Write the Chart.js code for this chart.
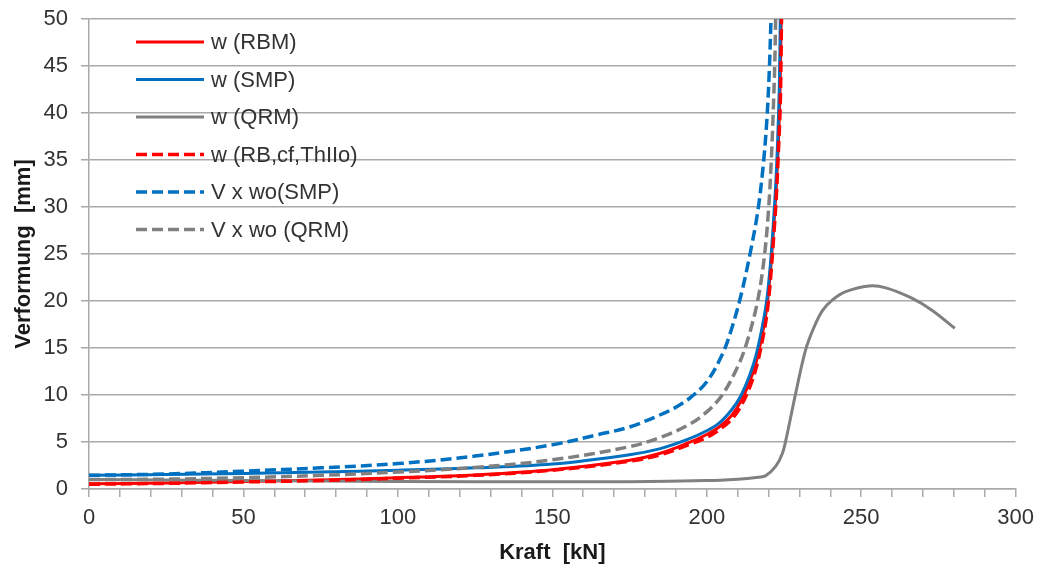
<!DOCTYPE html>
<html lang="de">
<head>
<meta charset="utf-8">
<title>Verformung über Kraft</title>
<script src="https://cdn.jsdelivr.net/npm/chart.js@4/dist/chart.umd.min.js"></script>
<style>
  html, body { margin: 0; padding: 0; background: #fff; }
  .chart-wrap { position: relative; width: 1042px; height: 575px; }
</style>
</head>
<body>
<div class="chart-wrap"><canvas id="kraftChart"></canvas></div>
<script>
/* ── Data: Kraft [kN] / Verformung [mm] per Verfahren ────────── */
const rbmKraft = [0, 25, 50, 75, 100, 125, 150, 175, 185, 194, 200, 204, 208, 211, 214, 216, 218, 219.5, 220.7, 221.7, 222.5, 223.2, 223.7, 224.1];
const rbmW     = [0.55, 0.65, 0.8, 0.95, 1.2, 1.5, 2.05, 3.05, 3.8, 4.9, 5.8, 6.6, 7.8, 9.3, 11.5, 13.5, 16.5, 19.5, 23.5, 28, 32, 37, 42, 50];

const smpKraft = [0, 25, 50, 75, 100, 125, 150, 175, 185, 194, 200, 204, 208, 211, 214, 216, 218, 219.5, 220.7, 221.7, 222.5, 223.1, 223.5, 223.8];
const smpW     = [1.45, 1.55, 1.65, 1.8, 2.0, 2.25, 2.65, 3.65, 4.3, 5.3, 6.2, 7.0, 8.4, 9.9, 12.2, 14.3, 17.3, 20.3, 24.3, 29, 33.5, 38.5, 43, 50];

const qrmKraft = [0, 25, 50, 100, 150, 175, 200, 210, 216, 219, 222.3, 224.5, 226, 228.8, 232, 234.7, 237.5, 240.6, 245, 252.5, 258, 266.4, 273, 280.3];
const qrmW     = [1.0, 0.95, 0.9, 0.8, 0.76, 0.78, 0.9, 1.05, 1.22, 1.4, 2.4, 3.8, 5.8, 10.2, 14.8, 17.2, 19.0, 20.1, 21.0, 21.6, 21.4, 20.3, 19.0, 17.1];

const rbcfKraft = [0, 25, 50, 75, 100, 125, 150, 175, 185, 194, 200, 204, 208, 211, 214, 216, 218, 219.5, 220.7, 221.7, 222.5, 223.2, 223.8, 224.2];
const rbcfW     = [0.5, 0.6, 0.75, 0.9, 1.15, 1.45, 2.0, 2.95, 3.65, 4.7, 5.5, 6.3, 7.4, 8.8, 10.9, 12.9, 15.8, 18.7, 22.6, 27, 31, 36, 41, 50];

const vSmpKraft = [0, 25, 50, 75, 100, 125, 150, 165, 175, 185, 190, 195, 200, 205, 208, 211, 214, 216.5, 218.3, 219.5, 220.3, 220.8];
const vSmpW     = [1.45, 1.6, 1.9, 2.25, 2.7, 3.5, 4.7, 5.8, 6.6, 7.9, 8.7, 9.8, 11.4, 14.3, 17.0, 20.5, 25, 29.5, 34.5, 39.5, 45, 50];

const vQrmKraft = [0, 25, 50, 75, 100, 125, 150, 175, 185, 194, 200, 205, 210, 213, 216.4, 218.6, 220, 220.9, 221.5, 222, 222.3];
const vQrmW     = [1.0, 1.05, 1.2, 1.45, 1.8, 2.3, 3.1, 4.5, 5.5, 6.8, 8.2, 10, 13, 15.6, 19.9, 24.6, 29.7, 35, 40, 45, 50];

const xTicks = [0, 50, 100, 150, 200, 250, 300];
const yTicks = [0, 5, 10, 15, 20, 25, 30, 35, 40, 45, 50];

const RED  = '#ff0000';
const BLUE = '#0070c0';
const GRAY = '#808080';
const GRID = '#a9a9a9';
const DASH = [11, 5];

/* ── Helpers ─────────────────────────────────────────────────── */
function toPoints(xs, ys) {
  return xs.map((x, i) => ({ x, y: ys[i] }));
}

function series(label, xs, ys, color, dashed, order) {
  return {
    label,
    data: toPoints(xs, ys),
    borderColor: color,
    backgroundColor: color,
    borderWidth: dashed ? 3.5 : 3,
    borderDash: dashed ? DASH : [],
    borderCapStyle: 'butt',
    tension: 0.35,
    pointRadius: 0,
    fill: false,
    order,
  };
}

/* ── Legend drawn inside the plot, top left ──────────────────── */
const innerLegend = {
  id: 'innerLegend',
  afterDatasetsDraw(chart) {
    const { ctx, chartArea } = chart;
    const x0 = chartArea.left + 47;
    const x1 = x0 + 68;
    ctx.save();
    ctx.font = '22px "Liberation Sans", Arial, sans-serif';
    ctx.fillStyle = '#333333';
    ctx.textBaseline = 'middle';
    chart.data.datasets.forEach((ds, i) => {
      const y = chartArea.top + 23 + i * 37.5;
      ctx.beginPath();
      ctx.setLineDash(ds.borderDash);
      ctx.lineCap = 'butt';
      ctx.lineWidth = ds.borderWidth;
      ctx.strokeStyle = ds.borderColor;
      ctx.moveTo(x0, y);
      ctx.lineTo(x1, y);
      ctx.stroke();
      ctx.setLineDash([]);
      ctx.fillText(ds.label, x1 + 7, y + 1);
    });
    ctx.restore();
  },
};

/* ── Chart ───────────────────────────────────────────────────── */
const tickFont  = { family: '"Liberation Sans", Arial, sans-serif', size: 22 };
const titleFont = { family: '"Liberation Sans", Arial, sans-serif', size: 22, weight: 'bold' };

new Chart(document.getElementById('kraftChart'), {
  type: 'line',
  data: {
    datasets: [
      series('w (RBM)',           rbmKraft,  rbmW,  RED,  false, 6),
      series('w (SMP)',           smpKraft,  smpW,  BLUE, false, 5),
      series('w (QRM)',           qrmKraft,  qrmW,  GRAY, false, 4),
      series('w (RB,cf,ThIIo)',   rbcfKraft, rbcfW, RED,  true,  3),
      series('V x wo(SMP)',       vSmpKraft, vSmpW, BLUE, true,  2),
      series('V x wo (QRM)',      vQrmKraft, vQrmW, GRAY, true,  1),
    ],
  },
  options: {
    responsive: true,
    maintainAspectRatio: false,
    animation: false,
    layout: { padding: { top: 19, right: 25, left: 0, bottom: 0 } },
    plugins: {
      legend: { display: false },
      tooltip: { enabled: false },
    },
    scales: {
      x: {
        type: 'linear',
        min: 0,
        max: 300,
        ticks: {
          stepSize: 10,
          autoSkip: false,
          maxRotation: 0,
          padding: 8,
          color: '#333333',
          font: tickFont,
          callback: v => (xTicks.includes(v) ? v : ''),
        },
        grid: { drawOnChartArea: false, tickLength: 8, color: GRID, lineWidth: 1.5 },
        border: { color: GRID, width: 1.5 },
        title: { display: true, text: 'Kraft  [kN]', color: '#1a1a1a', font: titleFont, padding: { top: 0, bottom: 9 } },
        afterFit: scale => { scale.height = 86; },
      },
      y: {
        min: 0,
        max: 50,
        ticks: {
          stepSize: 5,
          padding: 13,
          color: '#333333',
          font: tickFont,
          callback: v => (yTicks.includes(v) ? v : ''),
        },
        grid: { tickLength: 8, color: GRID, lineWidth: 1.5 },
        border: { color: GRID, width: 1.5 },
        title: { display: true, text: 'Verformung  [mm]', color: '#1a1a1a', font: titleFont, padding: { top: 11, bottom: 0 } },
        afterFit: scale => {
          // fixed axis width; the label overflow at top/bottom is covered by layout padding
          scale.width = 89;
          scale.paddingTop = 0;
          scale.paddingBottom = 0;
        },
      },
    },
  },
  plugins: [innerLegend],
});
</script>
</body>
</html>
